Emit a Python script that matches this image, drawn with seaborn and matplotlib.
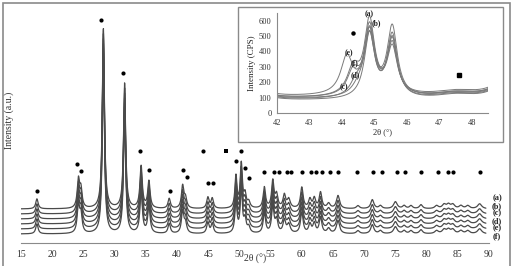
import numpy as np
import pandas as pd
import seaborn as sns
import matplotlib.pyplot as plt
from matplotlib.patches import Rectangle

# Picos del difractograma principal (posición 2θ, altura, ancho)
pico_pos = [17.55, 24.2, 24.6, 28.2, 31.6, 34.25, 35.5, 38.75, 40.9, 41.35,
            44.95, 45.65, 49.45, 50.3, 50.9, 51.5, 54.0, 55.35, 55.95, 57.2,
            57.9, 60.0, 61.3, 62.0, 63.0, 64.3, 65.8, 69.0, 71.3, 72.6,
            75.0, 76.4, 77.5, 79.1, 81.6, 82.8, 83.5, 84.2, 85.5, 86.6, 88.5]
pico_alt = [10, 28, 18, 180, 125, 42, 27, 10, 22, 10,
            11, 10, 32, 44, 13, 6, 21, 27, 13, 13,
            9, 21, 9, 10, 16, 5, 13, 3, 9, 3,
            7, 3, 3, 4, 3, 4, 4, 4, 3, 3, 5]
pico_ancho = [0.45, 0.45, 0.45, 0.4, 0.4, 0.45, 0.45, 0.45, 0.45, 0.5,
              0.45, 0.45, 0.4, 0.4, 0.45, 0.5, 0.45, 0.45, 0.5, 0.5,
              0.6, 0.5, 0.5, 0.5, 0.5, 0.6, 0.6, 0.6, 0.6, 0.6,
              0.7, 0.6, 0.6, 0.6, 0.7, 0.7, 0.7, 0.7, 0.7, 0.7, 0.8]

muestras = ['(a)', '(b)', '(c)', '(d)', '(e)', '(f)']
desplazamiento = [34, 29, 24, 19, 14, 9]
etiqueta_y = [45, 37, 30, 22, 15, 7]

# Marcadores de fases
punto_x = [17.5, 24.0, 24.6, 27.9, 31.3, 34.1, 35.5, 38.9, 40.9, 41.6, 44.2,
           45.0, 45.8, 49.4, 50.2, 50.9, 51.6,
           53.95, 55.55, 56.4, 57.6, 58.3, 60.0, 61.5, 62.3, 63.2, 64.5, 65.8,
           68.9, 71.45, 72.9, 75.2, 76.6, 79.1, 81.9, 83.5, 84.3, 88.5]
punto_y = [52, 79, 72, 223, 170, 92, 73, 52, 73, 66, 92,
           60, 60, 82, 92, 75, 65,
           71, 71, 71, 71, 71, 71, 71, 71, 71, 71, 71,
           71, 71, 71, 71, 71, 71, 71, 71, 71, 71]
cuadrado_x = [47.8]
cuadrado_y = [92]

# Recuadro: región 42-48.5°
inset_bg = [95, 90, 80, 85, 105, 95]
inset_p1 = [480, 430, 420, 400, 440, 410]
inset_p2 = [330, 450, 410, 380, 300, 360]
inset_hombro_pos = [44.35, 44.5, 44.5, 44.45, 44.15, 44.35]
inset_hombro_alt = [170, 40, 0, 90, 240, 150]
inset_etq_x = [44.85, 45.05, 44.05, 44.4, 44.2, 44.4]
inset_etq_y = [645, 585, 165, 245, 390, 325]


def lorentz(x, pos, alt, ancho):
    g = ancho / 2
    return alt * g ** 2 / ((x - pos) ** 2 + g ** 2)


sns.set_style('white')
plt.rcParams['font.family'] = ['Liberation Serif', 'DejaVu Serif']

fig = plt.figure(figsize=(5.11, 2.66), dpi=100)
gris = '#8a8a8a'
linea = '#4a4a4a'

# Difractograma principal
ax = fig.add_axes([21 / 511, 1 - 243 / 266, 468 / 511, 228 / 266])
x = np.linspace(15, 89.5, 4000)
perfil = np.zeros_like(x)
for p, h, w in zip(pico_pos, pico_alt, pico_ancho):
    perfil += lorentz(x, p, h, w)

filas = []
for m, d in zip(muestras, desplazamiento):
    filas.append(pd.DataFrame({'2θ': x, 'I': perfil + d, 'muestra': m}))
df = pd.concat(filas)
sns.lineplot(data=df, x='2θ', y='I', hue='muestra', palette=[linea] * 6,
             legend=False, estimator=None, sort=False, lw=0.9, ax=ax)
sns.scatterplot(x=punto_x, y=punto_y, color='black', s=9, linewidth=0, ax=ax)
sns.scatterplot(x=cuadrado_x, y=cuadrado_y, color='black', s=10, marker='s',
                linewidth=0, ax=ax)
for m, yy in zip(muestras, etiqueta_y):
    ax.text(91.3, yy, m, ha='center', va='center', fontsize=6,
            fontweight='bold', color='#222222', clip_on=False)

ax.set_xlim(15, 90)
ax.set_ylim(0, 228)
ax.set_xticks(range(15, 91, 5))
ax.set_yticks([])
ax.set_xlabel('')
ax.set_ylabel('')
sns.despine(ax=ax, left=True)
ax.spines['bottom'].set_color(gris)
ax.tick_params(axis='x', direction='inout', length=4, width=0.8, color=gris,
               labelsize=7, pad=3, labelcolor='#333333')
fig.text(255 / 511, 1 - 259 / 266, '2θ (°)', fontsize=7, ha='center',
         va='center', color='#333333')
fig.text(9 / 511, 1 - 120 / 266, 'Intensity (a.u.)', rotation=90, fontsize=7,
         ha='center', va='center', color='#333333')

# Recuadro
fig.add_artist(Rectangle((238 / 511, 1 - 142 / 266), 265 / 511, 135 / 266,
                         transform=fig.transFigure, facecolor='white',
                         edgecolor=gris, lw=1.0, zorder=1))
axi = fig.add_axes([277 / 511, 1 - 113 / 266, 211 / 511, 100 / 266], zorder=2)
axi.patch.set_alpha(0)
xi = np.linspace(42, 48.5, 1500)
filas_i = []
for i, m in enumerate(muestras):
    yi = (inset_bg[i] + lorentz(xi, 44.85, inset_p1[i], 0.38)
          + lorentz(xi, 45.55, inset_p2[i], 0.38)
          + lorentz(xi, inset_hombro_pos[i], inset_hombro_alt[i], 0.45)
          + lorentz(xi, 41.3, 100, 0.6) + lorentz(xi, 49.45, 2000, 0.3)
          + lorentz(xi, 47.5, 30, 1.5))
    filas_i.append(pd.DataFrame({'2θ': xi, 'I': yi, 'muestra': m}))
dfi = pd.concat(filas_i)
sns.lineplot(data=dfi, x='2θ', y='I', hue='muestra', palette=['#7a7a7a'] * 6,
             legend=False, estimator=None, sort=False, lw=0.7, ax=axi)
for m, xx, yy in zip(muestras, inset_etq_x, inset_etq_y):
    axi.text(xx, yy, m, ha='center', va='center', fontsize=5.5,
             fontweight='bold', color='#222222')
axi.plot([44.35], [520], 'o', color='black', ms=2.2)
axi.plot([47.6], [245], 's', color='black', ms=2.8)
axi.set_xlim(42, 48.5)
axi.set_ylim(0, 650)
axi.set_xticks(range(42, 49))
axi.set_yticks(range(0, 601, 100))
axi.set_xlabel('2θ (°)', fontsize=6, labelpad=1)
axi.set_ylabel('Intensity (CPS)', fontsize=6.5, labelpad=2)
sns.despine(ax=axi)
axi.spines['left'].set_color(gris)
axi.spines['bottom'].set_color(gris)
axi.tick_params(axis='both', direction='out', length=2, width=0.7, color=gris,
                labelsize=6, pad=2, labelcolor='#333333')

# Marco de la figura
fig.add_artist(Rectangle((3 / 511, -0.05), 507 / 511, 1.05 - 2.5 / 266,
                         transform=fig.transFigure, facecolor='none',
                         edgecolor=gris, lw=1.2, zorder=3))

fig.savefig('out.png', dpi=100)
